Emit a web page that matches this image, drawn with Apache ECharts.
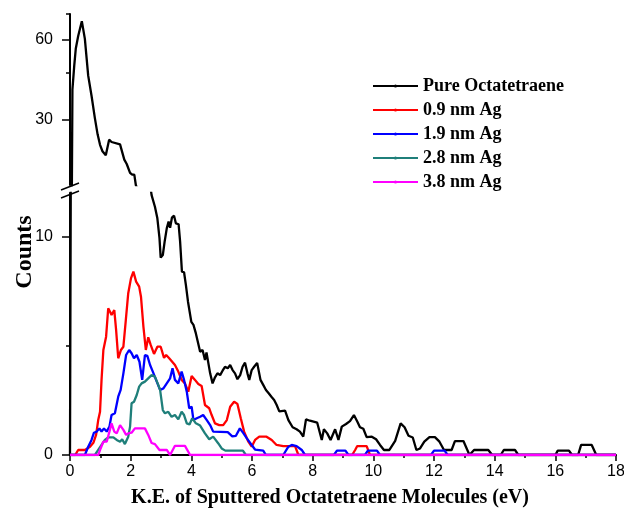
<!DOCTYPE html>
<html>
<head>
<meta charset="utf-8">
<script src="https://cdn.jsdelivr.net/npm/echarts@6/dist/echarts.min.js"></script>
<style>
  html, body { margin: 0; padding: 0; background: #fff; }
  #chart { width: 624px; height: 512px; }
</style>
</head>
<body>
<div id="chart"></div>
<script>
// kinetic energy (eV) / counts
const pureX = [0, 0.08, 0.14, 0.19, 0.27, 0.39, 0.49, 0.6, 0.71, 0.82,
  0.91, 0.99, 1.07, 1.18, 1.29, 1.37, 1.65, 1.71, 1.79, 1.87,
  1.98, 2.05, 2.12, 2.17, 2.69, 2.8, 2.88, 2.95, 2.99, 3.06,
  3.12, 3.19, 3.25, 3.3, 3.36, 3.43, 3.49, 3.58, 3.63, 3.69,
  3.76, 3.82, 3.89, 4.0, 4.07, 4.15, 4.2, 4.29, 4.37, 4.45,
  4.5, 4.62, 4.7, 4.78, 4.86, 4.95, 5.03, 5.11, 5.2, 5.28,
  5.36, 5.44, 5.52, 5.61, 5.69, 5.77, 5.85, 5.91, 5.99, 6.07,
  6.17, 6.28, 6.37, 6.46, 6.55, 6.64, 6.73, 6.81, 6.9, 7.09,
  7.2, 7.34, 7.47, 7.58, 7.69, 7.78, 7.91, 8.15, 8.3, 8.37,
  8.48, 8.59, 8.74, 8.85, 8.96, 9.1, 9.23, 9.36, 9.47, 9.56,
  9.67, 9.78, 9.95, 10.09, 10.22, 10.35, 10.53, 10.72, 10.9, 11.03,
  11.16, 11.3, 11.42, 11.54, 11.68, 11.85, 12.03, 12.18, 12.33, 12.58,
  12.69, 12.97, 13.17, 13.32, 13.79, 13.92, 14.2, 14.3, 14.67, 14.78,
  16.0, 16.08, 16.45, 16.55, 16.75, 16.85, 17.2, 17.35, 18]
const pureY = [0, 39, 48, 55.5, 62, 70.5, 60.5, 44, 37, 30.5,
  26.5, 24.2, 22.9, 22.1, 25.3, 24.8, 24.3, 24, 21.3, 20.5,
  19, 18.7, 18.7, 17.1, 11.9, 11.37, 10.84, 9.93, 9.04, 9.16,
  9.77, 10.38, 10.69, 10.41, 10.87, 10.96, 10.61, 10.57, 9.77, 8.4,
  8.37, 7.79, 7.02, 6.1, 5.96, 5.57, 5.6, 4.73, 4.81, 4.35,
  4.7, 3.74, 3.28, 3.56, 3.74, 3.66, 3.86, 4.04, 3.97, 4.12,
  3.89, 3.74, 3.47, 3.66, 4.04, 4.23, 3.74, 3.44, 3.89, 4.04,
  4.22, 3.44, 3.21, 2.98, 2.83, 2.67, 2.52, 2.3, 2.0, 2.03,
  1.6, 1.27, 1.18, 1.07, 0.84, 1.63, 1.57, 1.48, 0.69, 1.18,
  0.99, 0.69, 1.18, 0.69, 1.3, 1.42, 1.55, 1.83, 1.53, 1.27,
  1.2, 0.82, 0.84, 0.72, 0.46, 0.23, 0.23, 0.65, 1.45, 1.27,
  0.88, 0.8, 0.23, 0.3, 0.61, 0.82, 0.82, 0.61, 0.23, 0.23,
  0.64, 0.64, 0, 0.23, 0.23, 0, 0, 0.23, 0.23, 0,
  0, 0.2, 0.2, 0, 0, 0.46, 0.46, 0, 0]

const ag09X = [0, 0.17, 0.27, 0.49, 0.66, 0.77, 0.86, 0.93, 0.99, 1.04,
  1.1, 1.19, 1.26, 1.32, 1.37, 1.46, 1.52, 1.59, 1.68, 1.76,
  1.84, 1.92, 2.01, 2.09, 2.18, 2.28, 2.34, 2.42, 2.5, 2.58,
  2.66, 2.77, 2.88, 2.99, 3.1, 3.17, 3.27, 3.32, 3.46, 3.57,
  3.68, 3.79, 3.9, 4.01, 4.12, 4.23, 4.34, 4.45, 4.59, 4.67,
  4.78, 4.92, 5.05, 5.17, 5.28, 5.41, 5.52, 5.63, 5.74, 5.88,
  5.99, 6.1, 6.24, 6.48, 6.65, 6.81, 7.03, 7.42, 7.53, 9.3,
  9.4, 9.47, 9.78, 9.89, 18]
const ag09Y = [0, 0, 0.23, 0.23, 0.38, 0.56, 0.92, 1.6, 1.98, 3.44,
  4.81, 5.42, 6.72, 6.56, 6.41, 6.64, 5.73, 4.43, 4.81, 4.96,
  6.18, 7.41, 8.09, 8.4, 7.94, 7.71, 7.25, 5.88, 4.81, 5.39,
  5.04, 4.63, 4.96, 4.96, 4.45, 4.58, 4.43, 4.35, 4.12, 3.82,
  3.44, 3.28, 2.9, 3.62, 3.44, 3.25, 3.16, 2.29, 2.14, 1.83,
  1.45, 1.37, 1.37, 1.6, 2.21, 2.44, 2.34, 1.68, 1.07, 0.61,
  0.38, 0.69, 0.84, 0.84, 0.69, 0.46, 0.41, 0.41, 0, 0,
  0.23, 0.41, 0.41, 0, 0]

const ag19X = [0, 0.49, 0.6, 0.71, 0.79, 0.88, 0.97, 1.04, 1.12, 1.21,
  1.3, 1.37, 1.48, 1.59, 1.67, 1.76, 1.85, 1.95, 2.03, 2.11,
  2.2, 2.29, 2.38, 2.47, 2.55, 2.64, 2.73, 2.86, 2.97, 3.08,
  3.19, 3.3, 3.38, 3.46, 3.57, 3.68, 3.76, 3.85, 3.93, 4.01,
  4.07, 4.18, 4.29, 4.39, 4.51, 4.62, 4.72, 5.2, 5.35, 5.47,
  5.6, 5.72, 5.83, 5.99, 6.1, 6.37, 6.46, 7.03, 7.2, 7.31,
  7.47, 7.64, 7.75, 8.7, 8.8, 9.08, 9.18, 9.72, 9.82, 10.12,
  10.22, 11.9, 12.0, 12.35, 12.45, 18]
const ag19Y = [0, 0, 0.38, 0.69, 1.02, 1.07, 1.22, 1.07, 1.22, 1.07,
  1.3, 1.83, 1.91, 2.67, 2.98, 3.74, 4.58, 4.81, 4.66, 4.43,
  4.58, 4.27, 3.44, 4.58, 4.54, 4.12, 3.82, 3.36, 2.98, 3.05,
  3.28, 3.51, 3.97, 3.44, 3.28, 3.82, 3.44, 2.9, 2.14, 2.21,
  1.6, 1.68, 1.75, 1.83, 1.6, 1.37, 1.07, 1.05, 0.85, 0.88,
  1.22, 0.99, 0.76, 0.46, 0.25, 0.2, 0, 0, 0.38, 0.46,
  0.41, 0.23, 0, 0, 0.2, 0.2, 0, 0, 0.2, 0.2,
  0, 0, 0.2, 0.2, 0, 0]

const ag28X = [0, 0.82, 0.93, 1.04, 1.15, 1.26, 1.43, 1.54, 1.65, 1.72,
  1.81, 1.92, 1.98, 2.03, 2.11, 2.2, 2.28, 2.36, 2.47, 2.58,
  2.69, 2.8, 2.89, 2.97, 3.06, 3.13, 3.24, 3.35, 3.46, 3.57,
  3.68, 3.76, 3.85, 3.94, 4.03, 4.15, 4.29, 4.45, 4.59, 4.72,
  4.89, 5.0, 5.12, 5.7, 5.8, 18]
const ag28Y = [0, 0, 0.23, 0.46, 0.69, 0.81, 0.81, 0.69, 0.61, 0.72,
  0.5, 0.84, 1.3, 2.37, 2.44, 2.75, 3.13, 3.28, 3.36, 3.51,
  3.66, 3.59, 3.28, 2.98, 2.06, 1.91, 1.98, 1.75, 1.83, 1.63,
  1.98, 1.83, 1.45, 1.4, 1.68, 1.45, 1.35, 0.99, 0.72, 0.84,
  0.53, 0.3, 0.2, 0.2, 0, 0]

const ag38X = [0, 0.93, 1.01, 1.1, 1.21, 1.3, 1.37, 1.46, 1.54, 1.65,
  1.76, 1.85, 1.92, 2.03, 2.14, 2.47, 2.58, 2.69, 2.8, 2.95,
  3.19, 3.3, 3.46, 3.79, 3.96, 18]
const ag38Y = [0, 0, 0.3, 0.61, 0.61, 1.07, 1.45, 1.07, 0.99, 1.37,
  1.15, 0.92, 0.99, 1.02, 1.22, 1.22, 0.92, 0.55, 0.5, 0.23,
  0.23, 0, 0.42, 0.42, 0, 0]

const seriesNames = ['Pure Octatetraene', '0.9 nm Ag', '1.9 nm Ag', '2.8 nm Ag', '3.8 nm Ag']
const seriesColors = ['#000000', '#ff0000', '#0000ff', '#1f7f7a', '#ff00ff']

// broken y axis: upper part is logarithmic, lower part linear
const upperRange = [17.1, 75]
const upperMajor = [30, 60]
const upperMinor = [45, 75]
const lowerRange = [0, 12]
const lowerMajor = [0, 10]
const lowerMinor = [5]

const serif = "'Liberation Serif', 'Times New Roman', serif"
const sans = "'Liberation Sans', Arial, sans-serif"

const pairs = (xs, ys) => xs.map((x, i) => [x, ys[i]])

const chart = echarts.init(document.getElementById('chart'))

const lineStyleOf = (color) => ({color: color, width: 2.3})
const tickLine = {color: '#000', width: 1.5}

const yAxisMain = (grid, type, range, ticks) => ({
    gridIndex: grid,
    type: type,
    min: range[0],
    max: range[1],
    position: 'left',
    axisLine: {show: true, lineStyle: {color: '#000', width: 2}},
    axisTick: {show: true, length: 8, customValues: ticks, lineStyle: tickLine},
    axisLabel: {customValues: ticks, fontFamily: sans, fontSize: 16, color: '#000', margin: 17},
    splitLine: {show: false},
    minorTick: {show: false}
})

const yAxisMinor = (grid, type, range, ticks) => ({
    gridIndex: grid,
    type: type,
    min: range[0],
    max: range[1],
    position: 'left',
    axisLine: {show: false},
    axisTick: {show: true, length: 4, customValues: ticks, lineStyle: tickLine},
    axisLabel: {show: false},
    splitLine: {show: false}
})

const lowerSeries = seriesNames.map((name, i) => {
    const xs = [pureX, ag09X, ag19X, ag28X, ag38X][i]
    const ys = [pureY, ag09Y, ag19Y, ag28Y, ag38Y][i]
    return {
        name: name,
        type: 'line',
        xAxisIndex: 1,
        yAxisIndex: 2,
        data: pairs(xs, ys),
        showSymbol: false,
        symbol: 'circle',
        symbolSize: 3,
        color: seriesColors[i],
        lineStyle: lineStyleOf(seriesColors[i]),
        clip: true
    }
})

// the pure film also runs through the upper (log) panel; zero can't sit on a log axis
const upperSeries = {
    name: seriesNames[0],
    type: 'line',
    xAxisIndex: 0,
    yAxisIndex: 0,
    data: pairs(pureX, pureY.map(v => Math.max(v, 1))),
    showSymbol: false,
    symbol: 'circle',
    symbolSize: 3,
    color: seriesColors[0],
    lineStyle: lineStyleOf(seriesColors[0]),
    clip: true
}

const option = {
    animation: false,
    backgroundColor: '#fff',
    grid: [
        {left: 70, right: 8, top: 14, height: 171, outerBoundsMode: 'none'},
        {left: 70, right: 8, top: 193, height: 262, outerBoundsMode: 'none'}
    ],
    xAxis: [
        {gridIndex: 0, type: 'value', min: 0, max: 18, show: false},
        {
            gridIndex: 1,
            type: 'value',
            min: 0,
            max: 18,
            interval: 2,
            name: 'K.E. of Sputtered Octatetraene Molecules (eV)',
            nameLocation: 'middle',
            nameGap: 33,
            nameMoveOverlap: false,
            nameTextStyle: {fontFamily: serif, fontWeight: 'bold', fontSize: 20, color: '#000', padding: [0, 26, 0, 0]},
            axisLine: {lineStyle: {color: '#000', width: 2}},
            axisTick: {length: 6, lineStyle: tickLine},
            minorTick: {show: true, splitNumber: 2, length: 3, lineStyle: tickLine},
            axisLabel: {fontFamily: sans, fontSize: 16, color: '#000', margin: 9},
            splitLine: {show: false}
        }
    ],
    yAxis: [
        yAxisMain(0, 'log', upperRange, upperMajor),
        yAxisMinor(0, 'log', upperRange, upperMinor),
        yAxisMain(1, 'value', lowerRange, lowerMajor),
        yAxisMinor(1, 'value', lowerRange, lowerMinor)
    ],
    legend: {
        orient: 'vertical',
        left: 367,
        top: 72,
        itemWidth: 45,
        itemHeight: 4,
        itemGap: 6,
        data: seriesNames,
        textStyle: {fontFamily: serif, fontWeight: 'bold', fontSize: 18, color: '#000'}
    },
    graphic: [
        {
            type: 'text',
            x: 25,
            y: 252,
            rotation: Math.PI / 2,
            style: {
                text: 'Counts',
                font: 'bold 24px ' + serif,
                fill: '#000',
                align: 'center',
                verticalAlign: 'middle',
                textAlign: 'center',
                textVerticalAlign: 'middle'
            }
        },
        // axis break marks
        {type: 'line', shape: {x1: 61, y1: 190, x2: 79, y2: 183}, style: {stroke: '#000', lineWidth: 1.5}},
        {type: 'line', shape: {x1: 61, y1: 198, x2: 79, y2: 191}, style: {stroke: '#000', lineWidth: 1.5}}
    ],
    series: [upperSeries, ...lowerSeries]
}

chart.setOption(option)
</script>
</body>
</html>
